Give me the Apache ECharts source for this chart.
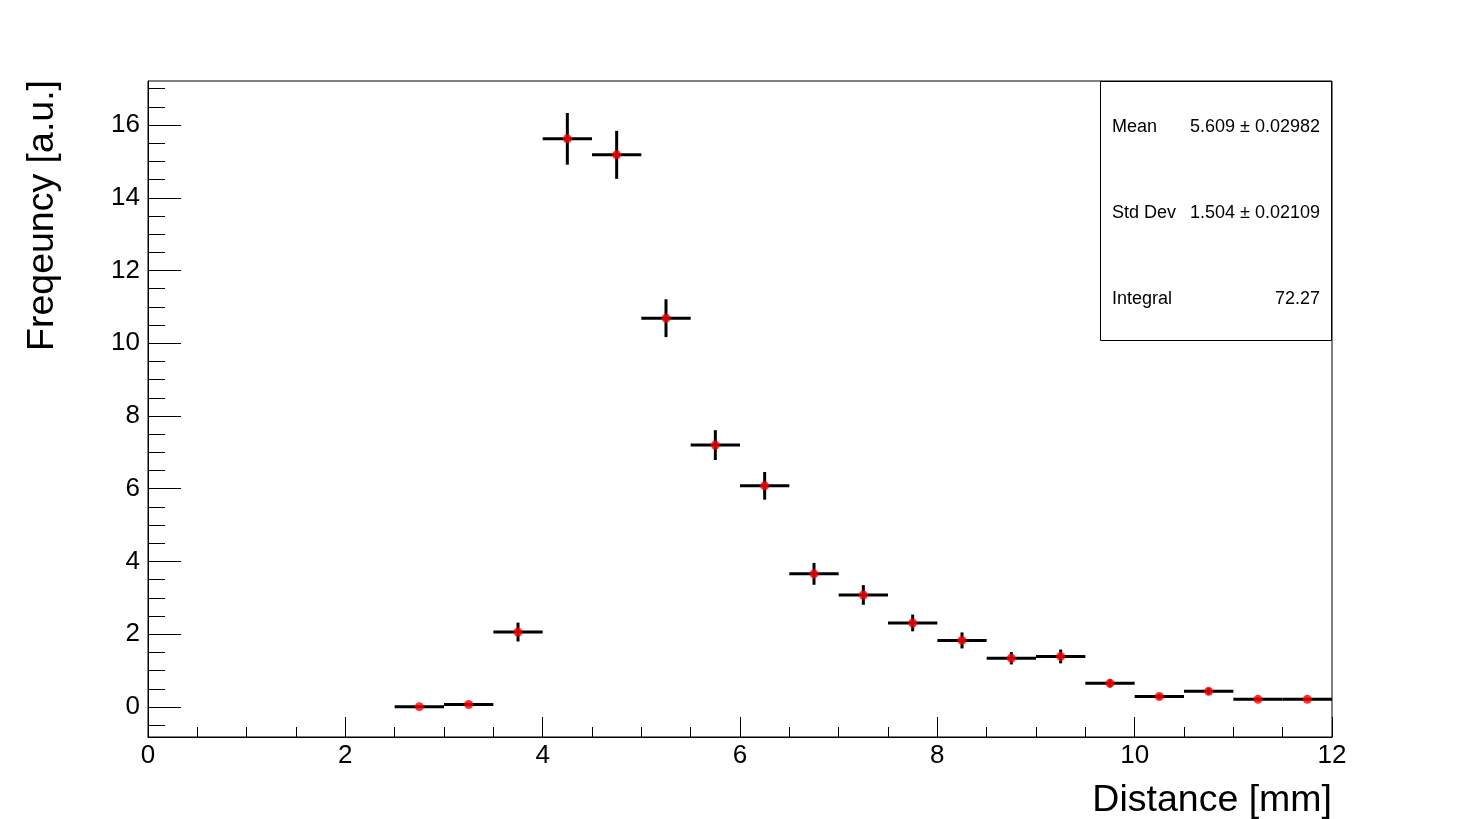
<!DOCTYPE html>
<html>
<head>
<meta charset="utf-8">
<script src="https://cdn.jsdelivr.net/npm/echarts@6/dist/echarts.min.js"></script>
<style>
html,body{margin:0;padding:0;background:#fff;}
#c{width:1481px;height:819px;}
</style>
</head>
<body>
<div id="c"></div>
<script>
// ---- data ----
var binCenters = [2.75, 3.25, 3.75, 4.25, 4.75, 5.25, 5.75, 6.25, 6.75, 7.25, 7.75, 8.25, 8.75, 9.25, 9.75, 10.25, 10.75, 11.25, 11.75];
var binValues  = [0.01, 0.07, 2.06, 15.62, 15.18, 10.69, 7.20, 6.08, 3.66, 3.08, 2.31, 1.83, 1.34, 1.39, 0.65, 0.29, 0.43, 0.21, 0.21];
var binErrors  = [0.02, 0.05, 0.26, 0.71, 0.66, 0.52, 0.41, 0.38, 0.30, 0.27, 0.23, 0.22, 0.17, 0.19, 0.11, 0.07, 0.09, 0.05, 0.05];
var binWidth = 0.5;
var yMajorTicks = [0, 2, 4, 6, 8, 10, 12, 14, 16];
var yMinorTicks = [-0.5, 0, 0.5, 1, 1.5, 2, 2.5, 3, 3.5, 4, 4.5, 5, 5.5, 6, 6.5, 7, 7.5, 8, 8.5, 9, 9.5, 10, 10.5, 11, 11.5, 12, 12.5, 13, 13.5, 14, 14.5, 15, 15.5, 16, 16.5, 17];
var statsLabels = ['Mean', 'Std Dev', 'Integral'];
var statsValues = ['5.609 \u00b1 0.02982', '1.504 \u00b1 0.02109', '72.27'];
var xTitle = 'Distance [mm]';
var yTitle = 'Freqeuncy [a.u.]';

var FONT = '"Liberation Sans", Arial, Helvetica, sans-serif';
var errData = binCenters.map(function (x, i) { return [x, binValues[i], binErrors[i]]; });
var ptData = binCenters.map(function (x, i) { return [x, binValues[i]]; });

var chart = echarts.init(document.getElementById('c'), null, {renderer: 'canvas'});

var statsY = [127, 213, 299];
var graphics = [
  {type: 'rect', shape: {x: 1100.5, y: 81.5, width: 231, height: 259}, style: {fill: '#fff', stroke: '#000', lineWidth: 1}, z: 10},
  {type: 'text', x: 1332, y: 801, style: {text: xTitle, font: '37.5px ' + FONT, fill: '#000', align: 'right', verticalAlign: 'middle'}, z: 10},
  {type: 'text', x: 43, y: 80, rotation: Math.PI / 2, style: {text: yTitle, font: '37.5px ' + FONT, fill: '#000', align: 'right', verticalAlign: 'middle'}, z: 10}
];
statsLabels.forEach(function (l, i) {
  graphics.push({type: 'text', x: 1112, y: statsY[i], style: {text: l, font: '18px ' + FONT, fill: '#000', align: 'left', verticalAlign: 'middle'}, z: 11});
  graphics.push({type: 'text', x: 1320, y: statsY[i], style: {text: statsValues[i], font: '18px ' + FONT, fill: '#000', align: 'right', verticalAlign: 'middle'}, z: 11});
});

var option = {
  animation: false,
  backgroundColor: '#fff',
  grid: {left: 148, right: 149, top: 81, bottom: 82, show: true, borderColor: '#000', borderWidth: 1, backgroundColor: 'transparent'},
  xAxis: {
    type: 'value', min: 0, max: 12, interval: 2,
    axisLine: {show: true, onZero: false, lineStyle: {color: '#000', width: 1}},
    axisTick: {show: true, inside: true, length: 20, lineStyle: {color: '#000', width: 1}},
    minorTick: {show: true, splitNumber: 4, length: 10, lineStyle: {color: '#000', width: 1}},
    axisLabel: {color: '#000', fontFamily: FONT, fontSize: 26, margin: 6},
    splitLine: {show: false}
  },
  yAxis: [
    {
      type: 'value', min: -0.825, max: 17.21,
      axisLine: {show: true, onZero: false, lineStyle: {color: '#000', width: 1}},
      axisTick: {show: true, inside: true, length: 33, customValues: yMajorTicks, lineStyle: {color: '#000', width: 1}},
      axisLabel: {color: '#000', fontFamily: FONT, fontSize: 26, margin: 8, customValues: yMajorTicks},
      splitLine: {show: false}
    },
    {
      type: 'value', min: -0.825, max: 17.21, position: 'left',
      axisLine: {show: false, onZero: false},
      axisTick: {show: true, inside: true, length: 17, customValues: yMinorTicks, lineStyle: {color: '#000', width: 1}},
      axisLabel: {show: false},
      splitLine: {show: false}
    }
  ],
  series: [
    {
      type: 'custom',
      data: errData,
      renderItem: function (params, api) {
        var x = api.value(0), y = api.value(1), e = api.value(2);
        var pL = api.coord([x - binWidth / 2, y]);
        var pR = api.coord([x + binWidth / 2, y]);
        var pT = api.coord([x, y + e]);
        var pB = api.coord([x, y - e]);
        return {
          type: 'group',
          children: [
            {type: 'line', shape: {x1: pL[0], y1: pL[1], x2: pR[0], y2: pR[1]}, style: {stroke: '#000', lineWidth: 3}},
            {type: 'line', shape: {x1: pT[0], y1: pT[1], x2: pB[0], y2: pB[1]}, style: {stroke: '#000', lineWidth: 3}}
          ]
        };
      },
      z: 2
    },
    {
      type: 'scatter',
      data: ptData,
      symbol: 'circle',
      symbolSize: 9,
      itemStyle: {color: '#ff0000'},
      z: 3
    }
  ],
  graphic: graphics
};
chart.setOption(option);
</script>
</body>
</html>
